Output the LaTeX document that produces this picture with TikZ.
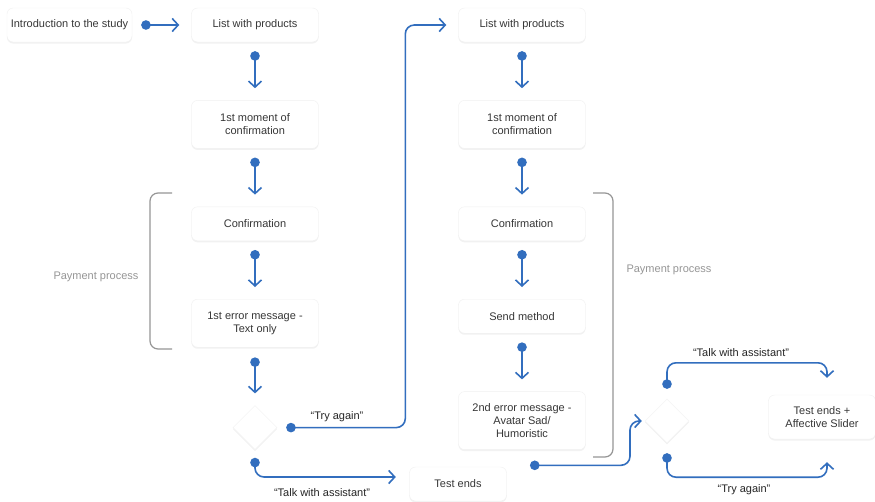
\documentclass[tikz,border=0pt]{standalone}
\usepackage{fontspec}
\setmainfont{Liberation Sans}
\usetikzlibrary{arrows.meta,positioning,calc,shapes.geometric,shadows}
\definecolor{flowBlue}{RGB}{50,110,190}
\definecolor{flowText}{RGB}{55,55,55}
\definecolor{braceGray}{RGB}{150,150,150}
\tikzset{
  box/.style={rounded corners=6pt, draw=black!6, fill=white, align=center,
              minimum width=127pt, minimum height=34pt, inner sep=3pt, text=flowText,
              font=\fontsize{11}{13}\selectfont,
              drop shadow={shadow xshift=0pt, shadow yshift=-1.5pt, opacity=0.10}},
  tallbox/.style={box, minimum height=48pt},
  choice/.style={diamond, draw=black!5, fill=white, minimum width=44pt, minimum height=44pt,
                 inner sep=0pt, drop shadow={shadow xshift=0pt, shadow yshift=-1.5pt, opacity=0.10}},
  link/.style={{Circle[length=9.5pt]}-{Straight Barb[length=6pt,width=13pt]}, line width=1.6pt,
               draw=flowBlue, rounded corners=9pt, shorten <=9pt, shorten >=12pt},
  answer/.style={font=\fontsize{11}{13}\selectfont, text=black!85},
  bracket/.style={draw=braceGray, line width=1.2pt, rounded corners=8pt},
  bracelabel/.style={font=\fontsize{11}{13}\selectfont, text=braceGray}
}

\begin{document}
\begin{tikzpicture}[x=1pt, y=-1pt, node distance=58pt]
\fill[white] (0,0) rectangle (875,501);
\useasboundingbox (0,0) rectangle (875,501);

\node[box, minimum width=125pt] (intro) at (69.5,25) {Introduction to the study};
\node[box] (list1) at (255,25) {List with products};
\node[tallbox, below=of list1] (moment1) {1st moment of\\confirmation};
\node[box, below=of moment1] (conf1) {Confirmation};
\node[tallbox, below=of conf1] (err1) {1st error message -\\Text only};
\node[choice, below=of err1] (d1) {};
\node[box, minimum width=97pt] (end1) at (458,484) {Test ends};

\node[box] (list2) at (522,25) {List with products};
\node[tallbox, below=of list2] (moment2) {1st moment of\\confirmation};
\node[box, below=of moment2] (conf2) {Confirmation};
\node[box, below=of conf2] (send) {Send method};
\node[box, minimum height=58pt, below=of send] (err2) {2nd error message -\\Avatar Sad/\\Humoristic};
\node[choice] (d2) at (667,421) {};
\node[box, minimum width=107pt, minimum height=44pt] (end2) at (822,417) {Test ends +\\Affective Slider};

\draw[link] (intro) -- (list1);
\draw[link] (list1) -- (moment1);
\draw[link] (moment1) -- (conf1);
\draw[link] (conf1) -- (err1);
\draw[link, shorten <=10pt] (err1) -- (d1);
\draw[link] (list2) -- (moment2);
\draw[link] (moment2) -- (conf2);
\draw[link] (conf2) -- (send);
\draw[link] (send) -- (err2);

\draw[link] (d1.east) -| ([xshift=-53pt]list2.west) -- (list2.west);
\draw[link, shorten <=8pt, shorten >=13.5pt] (d1.south) |- ([yshift=7pt]end1.west);
\node[answer] (try1) at (337,417) {“Try again”};
\node[answer] (talk1) at (322,493) {“Talk with assistant”};

\coordinate (errout) at ([shift={(8pt,-15.5pt)}]err2.south);
\draw[link, shorten <=0pt, shorten >=3pt] (errout) -- ++(100,0) |- (d2.west);
\draw[link, shorten <=10pt, shorten >=17pt] (d2.north) |- ([xshift=5pt,yshift=32pt]end2.north) -- ([xshift=5pt]end2.north);
\draw[link, shorten <=10pt, shorten >=23pt] (d2.south) |- ([xshift=5pt,yshift=-38pt]end2.south) -- ([xshift=5pt]end2.south);
\node[answer] (talk2) at (741,353) {“Talk with assistant”};
\node[answer] (try2) at (744,490) {“Try again”};

\draw[bracket] (172,193) -- (150,193) -- (150,349) -- (172,349);
\node[bracelabel] (pay1) at (96,277) {Payment process};
\draw[bracket] (593,193) -- (613,193) -- (613,457) -- (593,457);
\node[bracelabel] (pay2) at (669,270) {Payment process};
\end{tikzpicture}
\end{document}
